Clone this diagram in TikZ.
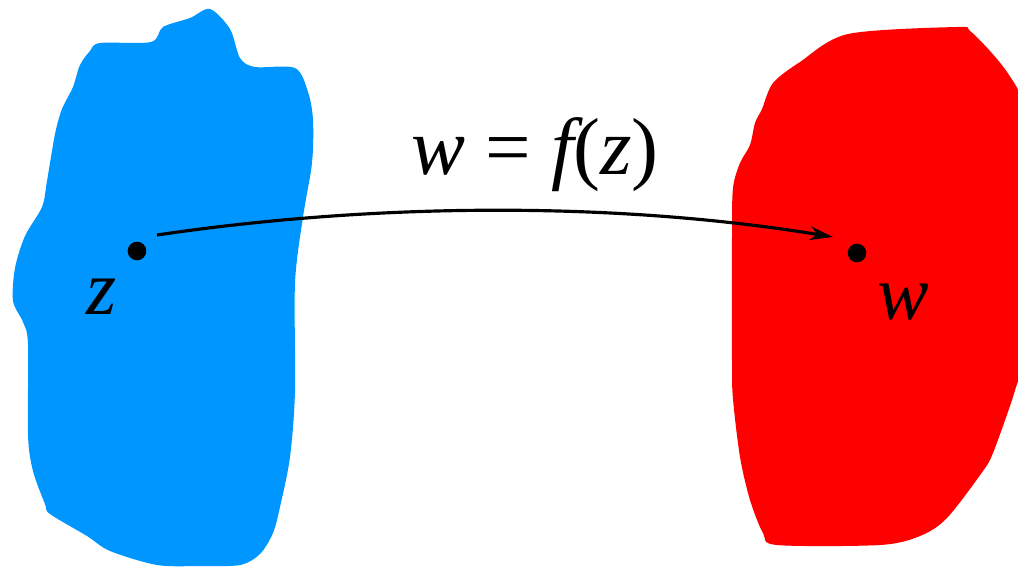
\documentclass[tikz,border=0pt]{standalone}
\usepackage{fontspec}
\setmainfont{Liberation Serif}
\newfontfamily\mapfont{Liberation Serif Italic}
\usetikzlibrary{arrows.meta, calc}
\definecolor{zblue}{RGB}{0,150,255}
\definecolor{wred}{RGB}{255,0,0}

\begin{document}
\begin{tikzpicture}[x=0.01cm, y=0.01cm,
    dot/.style={circle, fill, inner sep=0pt, minimum size=5.3pt},
    lab/.style={font=\fontsize{22}{26}\selectfont}]
  \useasboundingbox (0,0) rectangle (1018,569);
  \clip (0,0) rectangle (1018,569);
  % --- z plane region ---
  \fill[zblue] plot[smooth cycle, tension=0.5] coordinates {
    (100,526) (151,527) (163,542) (190,551) (210,560) (230,540) (240,511)
    (255,502) (295,501) (308,477) (313,449) (312,406) (303,352) (295,286)
    (295,178) (290,112) (280,62) (273,36) (260,15) (240,4) (200,3) (157,4)
    (110,18) (87,33) (50,55) (45,65) (33,98) (28,134) (28,225) (23,247)
    (13,268) (15,301) (25,333) (42,362) (47,388) (55,435) (62,460) (73,482)
    (80,504) (90,518)};
  % --- w plane region ---
  \fill[wred] plot[smooth cycle, tension=0.5] coordinates {
    (773,486) (800,507) (848,535) (957,542) (970,538) (990,518) (1007,497)
    (1022,470) (1032,420) (1032,230) (1017,185) (1010,163) (993,116)
    (983,98) (947,51) (920,33) (880,24) (777,24) (763,36) (750,69) (740,112)
    (733,170) (732,207) (732,333) (733,381) (740,406) (750,424) (755,446)
    (762,460)};
  % --- points and labels ---
  \node[dot] (zdot) at (137,318) {};
  \node[dot] (wdot) at (857,316) {};
  \node[lab] (zlab) at ($(zdot)+(-35,-46)$) {{\mapfont z}};
  \node[lab] (wlab) at ($(wdot)+(46,-49)$) {{\mapfont w}};
  \node[lab, font=\fontsize{23}{27}\selectfont] (map) at (535,414)
    {{\mapfont w}\ = {\mapfont f}({\mapfont z})};
  % --- the mapping ---
  \coordinate (zout) at ($(zdot)+(20,16)$);
  \coordinate (win) at ($(wdot)+(-24,16)$);
  \draw[line width=0.9pt, -{Stealth[length=6.5pt, width=3.8pt, inset=2pt]}]
    (zout) .. controls (380,367) and (620,367) .. (win);
\end{tikzpicture}
\end{document}
